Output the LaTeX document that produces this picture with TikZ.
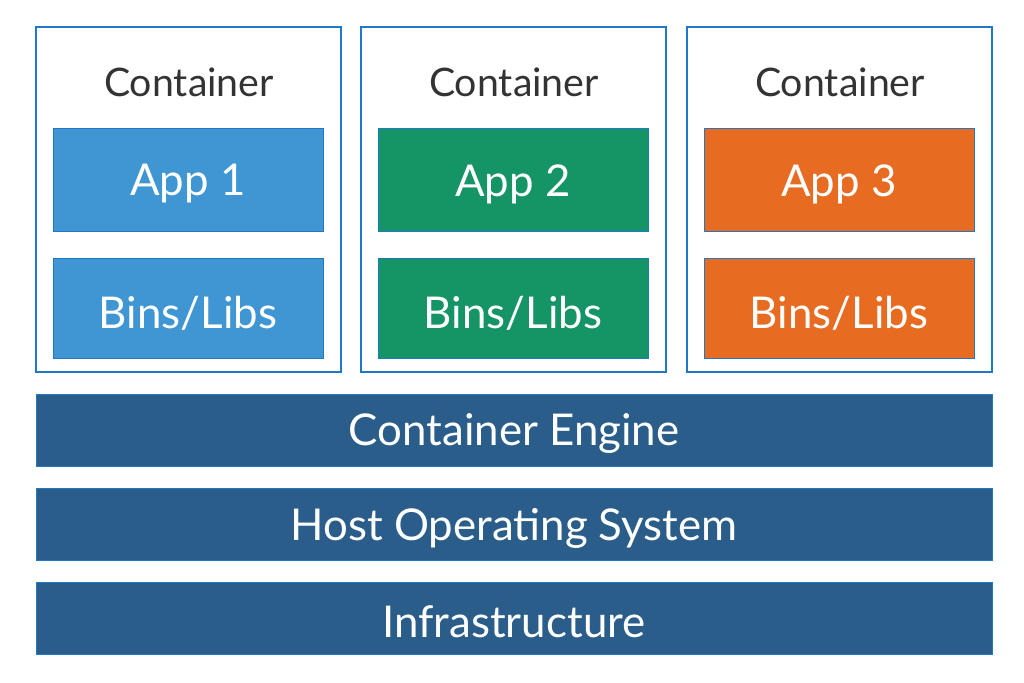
\documentclass[tikz,border=0pt]{standalone}
\usepackage{fontspec}
\setmainfont{Lato}
\definecolor{edge}{HTML}{1F78C8}
\definecolor{appblue}{HTML}{4096D2}
\definecolor{appgreen}{HTML}{159465}
\definecolor{apporange}{HTML}{E86B22}
\definecolor{bar}{HTML}{2A5D8A}
\definecolor{txt}{HTML}{333333}
\begin{document}
\begin{tikzpicture}[x=1pt,y=-1pt,
  cont/.style={draw=edge,line width=1.6pt,fill=white},
  appbox/.style={draw=edge,line width=1pt},
  apptext/.style={text=white,font=\fontsize{43.8}{48}\selectfont},
  barbox/.style={draw=edge,line width=1pt,fill=bar},
  bartext/.style={text=white,font=\fontsize{43.8}{48}\selectfont},
  ctitle/.style={text=txt,font=\fontsize{39.3}{44}\selectfont}]
\useasboundingbox (0,0) rectangle (1024,682);
\foreach \i/\xa/\col in {1/36/appblue,2/361/appgreen,3/687/apporange}{
  \draw[cont] (\xa,27) rectangle ++(305,345);
  \node[ctitle] (t\i) at (\xa+153,82) {Container};
  \draw[appbox,fill=\col] (\xa+17,128) rectangle ++(270,103);
  \node[apptext] (a\i) at (\xa+152,184) {App \i};
  \draw[appbox,fill=\col] (\xa+17,258) rectangle ++(270,100);
  \node[apptext] (b\i) at (\xa+152,313) {Bins/Libs};
}
\draw[barbox] (36,394) rectangle (992,466);
\node[bartext] (ce) at (514,434) {Container Engine};
\draw[barbox] (36,488) rectangle (992,560);
\node[bartext] (os) at (514,528) {Host Operating System};
\draw[barbox] (36,582) rectangle (992,654);
\node[bartext] (inf) at (514,622) {Infrastructure};
\end{tikzpicture}
\end{document}
